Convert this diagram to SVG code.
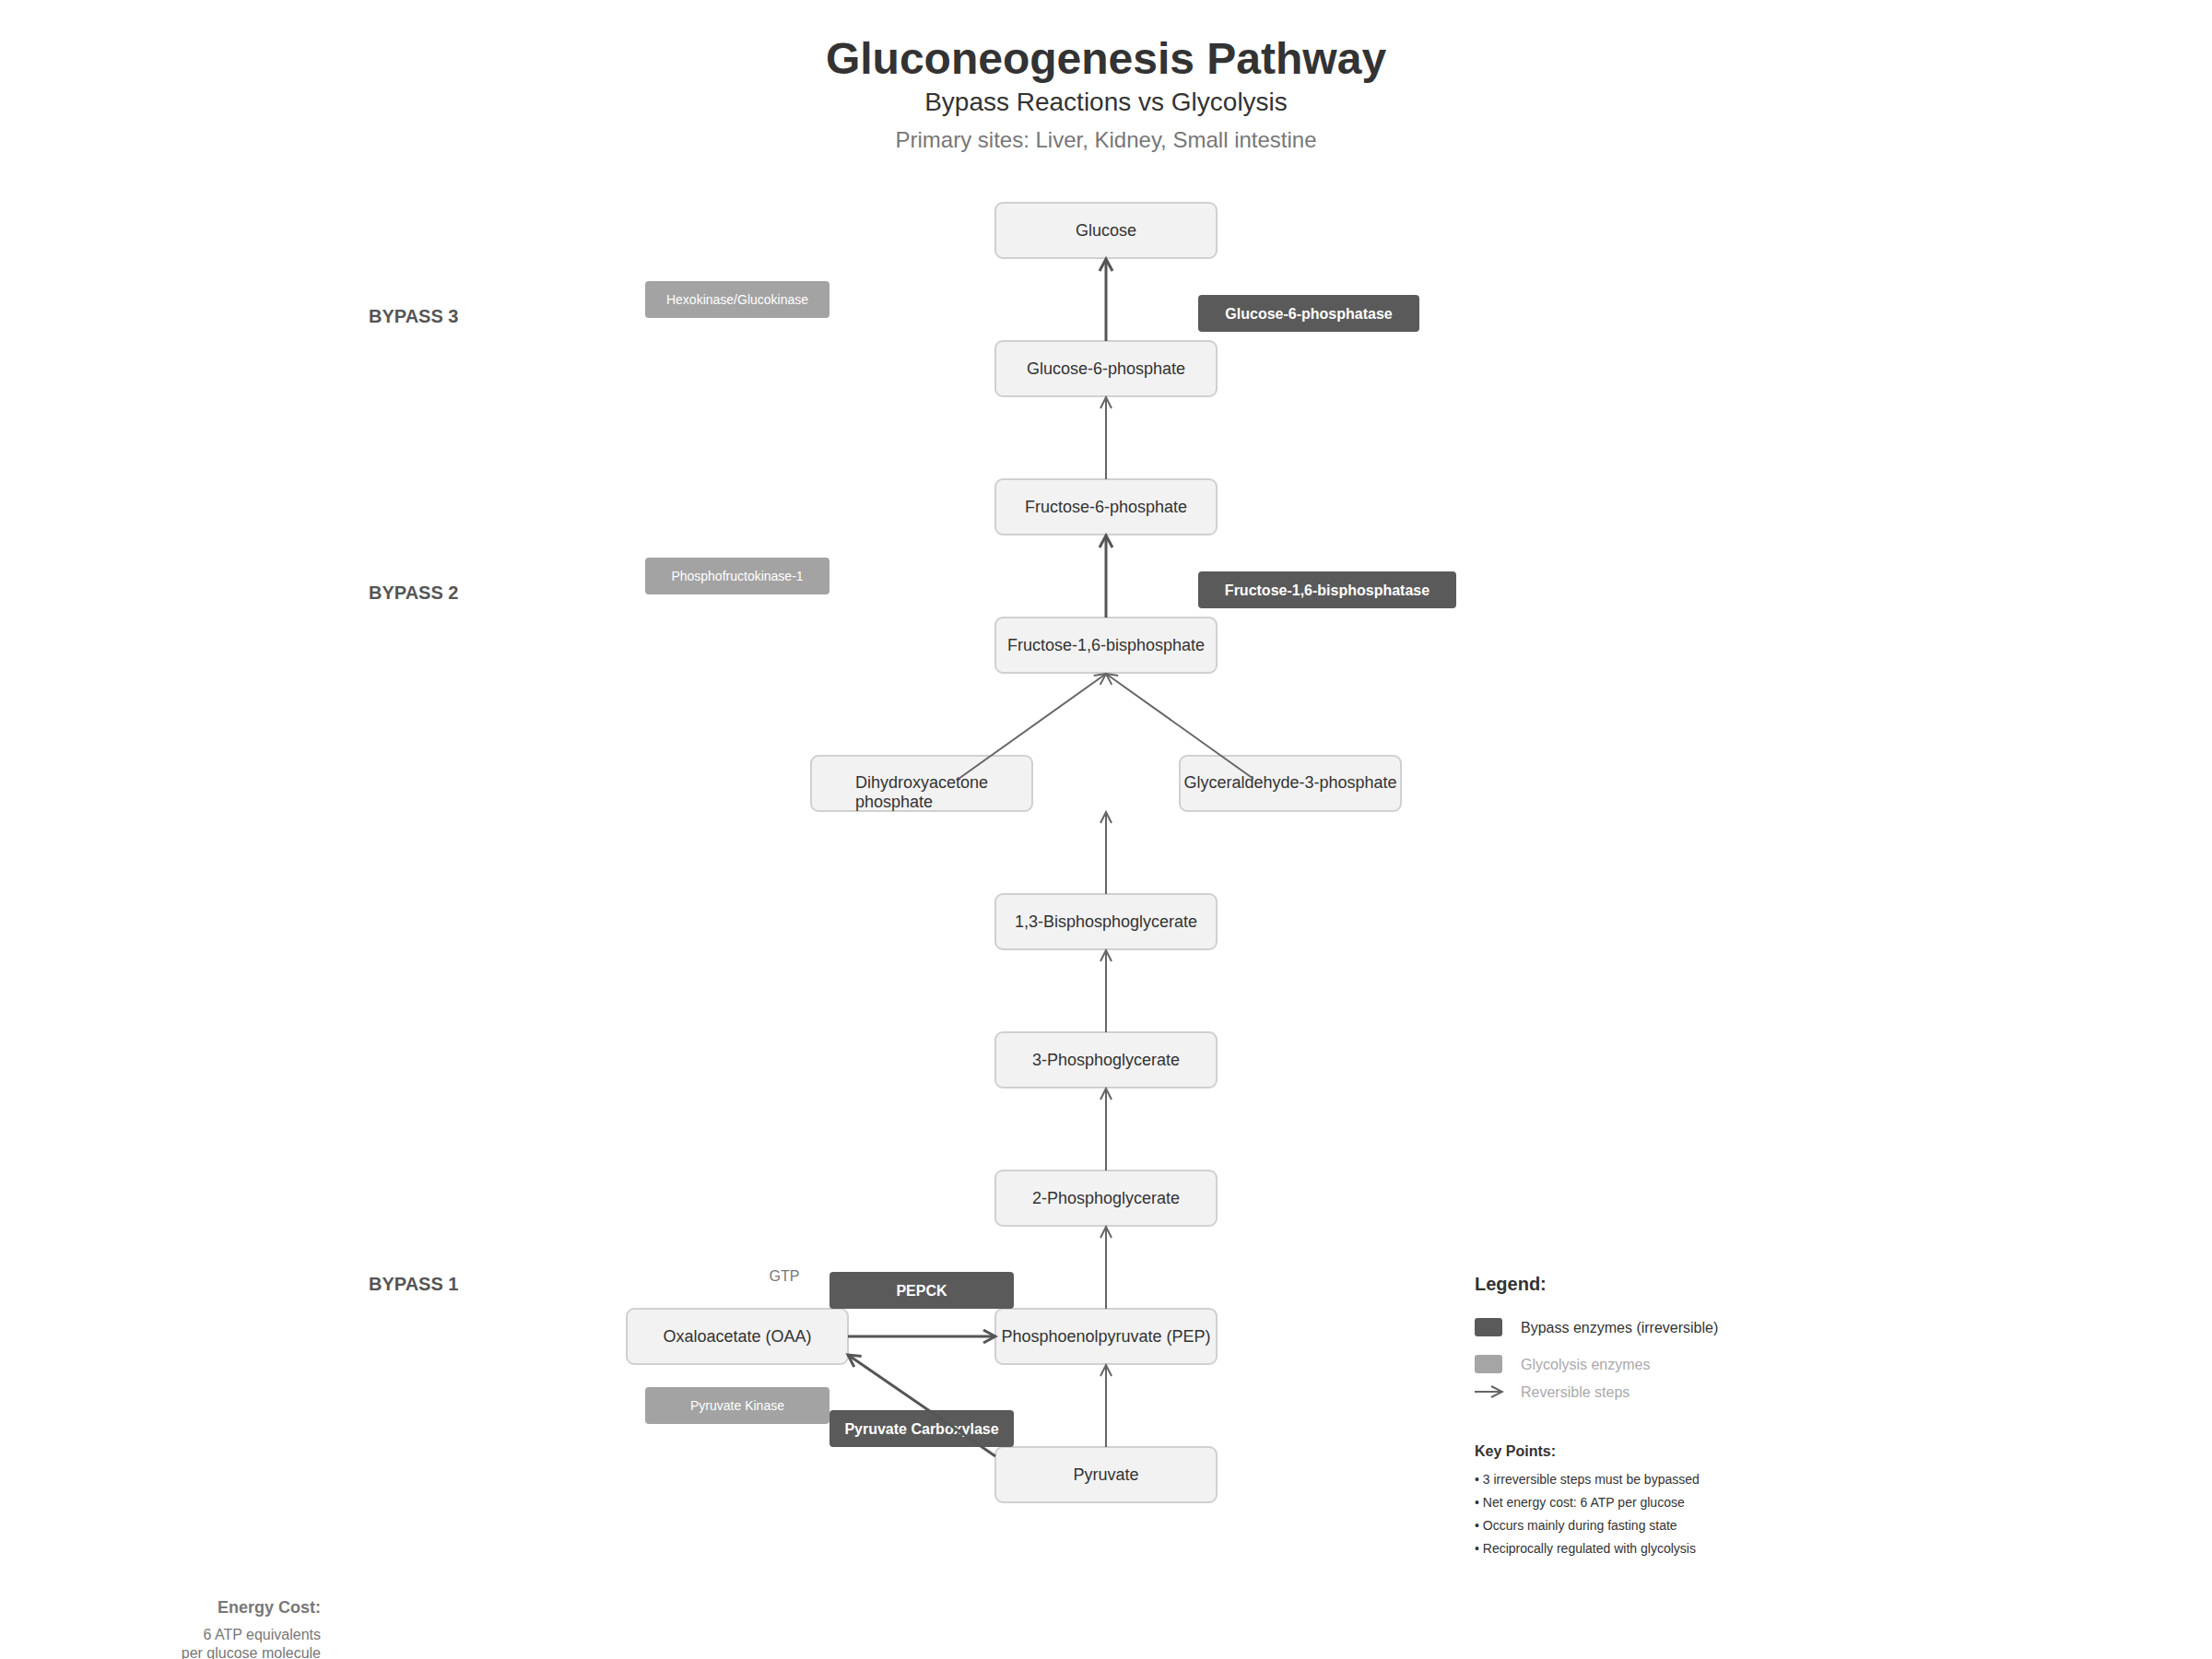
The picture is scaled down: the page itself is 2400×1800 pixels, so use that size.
<svg xmlns="http://www.w3.org/2000/svg" width="2400" height="1800" viewBox="0 0 2400 1800">
<style>
text{font-family:"Liberation Sans",Arial,sans-serif}
.node rect{fill:#f2f2f2;stroke:#d0d0d0;stroke-width:2}
.node text{font-size:18px;fill:#333;text-anchor:middle}
.byp rect{fill:#5a5a5a}
.byp text{font-size:16px;font-weight:bold;fill:#fff;text-anchor:middle}
.gly rect{fill:#a3a3a3}
.gly text{font-size:14px;fill:#fff;text-anchor:middle}
.thin{stroke:#666;stroke-width:2;fill:none;marker-end:url(#arrThin)}
.thick{stroke:#555;stroke-width:3;fill:none;marker-end:url(#arrThick)}
.bp{font-size:20px;font-weight:bold;fill:#555}
</style>
<defs>
<marker id="arrThin" viewBox="0 0 16 16" refX="14" refY="8" markerWidth="16" markerHeight="16" orient="auto" markerUnits="userSpaceOnUse"><path d="M2,2 L14,8 L2,14" fill="none" stroke="#666" stroke-width="2"/></marker>
<marker id="arrThick" viewBox="0 0 18 18" refX="15" refY="9" markerWidth="18" markerHeight="18" orient="auto" markerUnits="userSpaceOnUse"><path d="M2,2 L15,9 L2,16" fill="none" stroke="#555" stroke-width="3"/></marker>
</defs>
<rect width="2400" height="1800" fill="#fff"/>
<g id="title">
<text x="1200" y="80" font-size="48" font-weight="bold" fill="#333" text-anchor="middle">Gluconeogenesis Pathway</text>
<text x="1200" y="120" font-size="28" fill="#333" text-anchor="middle">Bypass Reactions vs Glycolysis</text>
<text x="1200" y="160" font-size="24" fill="#777" text-anchor="middle">Primary sites: Liver, Kidney, Small intestine</text>
</g>
<g id="bypass-labels">
<text class="bp" x="400" y="350">BYPASS 3</text>
<text class="bp" x="400" y="650">BYPASS 2</text>
<text class="bp" x="400" y="1400">BYPASS 1</text>
</g>
<g id="glucose" class="node"><rect x="1080" y="220" width="240" height="60" rx="8"/><text x="1200" y="256">Glucose</text></g>
<g id="g6p" class="node"><rect x="1080" y="370" width="240" height="60" rx="8"/><text x="1200" y="406">Glucose-6-phosphate</text></g>
<g id="f6p" class="node"><rect x="1080" y="520" width="240" height="60" rx="8"/><text x="1200" y="556">Fructose-6-phosphate</text></g>
<g id="f16bp" class="node"><rect x="1080" y="670" width="240" height="60" rx="8"/><text x="1200" y="706">Fructose-1,6-bisphosphate</text></g>
<g id="dhap" class="node"><rect x="880" y="820" width="240" height="60" rx="8"/><text x="1000" y="855">Dihydroxyacetone</text><text x="928" y="876" style="text-anchor:start">phosphate</text></g>
<g id="g3p" class="node"><rect x="1280" y="820" width="240" height="60" rx="8"/><text x="1400" y="855">Glyceraldehyde-3-phosphate</text></g>
<g id="bpg13" class="node"><rect x="1080" y="970" width="240" height="60" rx="8"/><text x="1200" y="1006">1,3-Bisphosphoglycerate</text></g>
<g id="pg3" class="node"><rect x="1080" y="1120" width="240" height="60" rx="8"/><text x="1200" y="1156">3-Phosphoglycerate</text></g>
<g id="pg2" class="node"><rect x="1080" y="1270" width="240" height="60" rx="8"/><text x="1200" y="1306">2-Phosphoglycerate</text></g>
<g id="pep" class="node"><rect x="1080" y="1420" width="240" height="60" rx="8"/><text x="1200" y="1456">Phosphoenolpyruvate (PEP)</text></g>
<g id="pyruvate" class="node"><rect x="1080" y="1570" width="240" height="60" rx="8"/><text x="1200" y="1606">Pyruvate</text></g>
<g id="oaa" class="node"><rect x="680" y="1420" width="240" height="60" rx="8"/><text x="800" y="1456">Oxaloacetate (OAA)</text></g>
<g id="hexokinase" class="gly"><rect x="700" y="305" width="200" height="40" rx="4"/><text x="800" y="330">Hexokinase/Glucokinase</text></g>
<g id="g6pase" class="byp"><rect x="1300" y="320" width="240" height="40" rx="4"/><text x="1420" y="346">Glucose-6-phosphatase</text></g>
<g id="pfk1" class="gly"><rect x="700" y="605" width="200" height="40" rx="4"/><text x="800" y="630">Phosphofructokinase-1</text></g>
<g id="fbpase" class="byp"><rect x="1300" y="620" width="280" height="40" rx="4"/><text x="1440" y="646">Fructose-1,6-bisphosphatase</text></g>
<g id="pepck" class="byp"><rect x="900" y="1380" width="200" height="40" rx="4"/><text x="1000" y="1406">PEPCK</text></g>
<g id="gtp"><text x="851" y="1390" font-size="16" fill="#777" text-anchor="middle">GTP</text></g>
<g id="pk" class="gly"><rect x="700" y="1505" width="200" height="40" rx="4"/><text x="800" y="1530">Pyruvate Kinase</text></g>
<g id="pc" class="byp"><rect x="900" y="1530" width="200" height="40" rx="4"/><text x="1000" y="1556">Pyruvate Carboxylase</text></g>
<g id="connectors">
<line class="thick" x1="1200" y1="370" x2="1200" y2="281"/>
<line class="thin" x1="1200" y1="520" x2="1200" y2="431"/>
<line class="thick" x1="1200" y1="670" x2="1200" y2="581"/>
<line class="thin" x1="1040" y1="845" x2="1200" y2="731"/>
<line class="thin" x1="1360" y1="845" x2="1200" y2="731"/>
<line class="thin" x1="1200" y1="970" x2="1200" y2="881"/>
<line class="thin" x1="1200" y1="1120" x2="1200" y2="1031"/>
<line class="thin" x1="1200" y1="1270" x2="1200" y2="1181"/>
<line class="thin" x1="1200" y1="1420" x2="1200" y2="1331"/>
<line class="thin" x1="1200" y1="1570" x2="1200" y2="1481"/>
<line class="thick" x1="920" y1="1450" x2="1080" y2="1450"/>
<line class="thick" x1="1080" y1="1580" x2="920" y2="1470"/>
</g>
<g id="legend">
<text x="1600" y="1400" font-size="20" font-weight="bold" fill="#333">Legend:</text>
<rect x="1600" y="1430" width="30" height="20" rx="3" fill="#5a5a5a"/>
<text x="1650" y="1446" font-size="16" fill="#333">Bypass enzymes (irreversible)</text>
<rect x="1600" y="1470" width="30" height="20" rx="3" fill="#a5a5a5"/>
<text x="1650" y="1486" font-size="16" fill="#aaa">Glycolysis enzymes</text>
<line class="thin" x1="1600" y1="1510" x2="1630" y2="1510"/>
<text x="1650" y="1516" font-size="16" fill="#aaa">Reversible steps</text>
<text x="1600" y="1580" font-size="16" font-weight="bold" fill="#333">Key Points:</text>
<text x="1600" y="1610" font-size="14" fill="#333">• 3 irreversible steps must be bypassed</text>
<text x="1600" y="1635" font-size="14" fill="#333">• Net energy cost: 6 ATP per glucose</text>
<text x="1600" y="1660" font-size="14" fill="#333">• Occurs mainly during fasting state</text>
<text x="1600" y="1685" font-size="14" fill="#333">• Reciprocally regulated with glycolysis</text>
</g>
<g id="energy-cost">
<text x="348" y="1750" font-size="18" font-weight="bold" fill="#777" text-anchor="end">Energy Cost:</text>
<text x="348" y="1779" font-size="16" fill="#777" text-anchor="end">6 ATP equivalents</text>
<text x="348" y="1799" font-size="16" fill="#777" text-anchor="end">per glucose molecule</text>
</g>
</svg>
